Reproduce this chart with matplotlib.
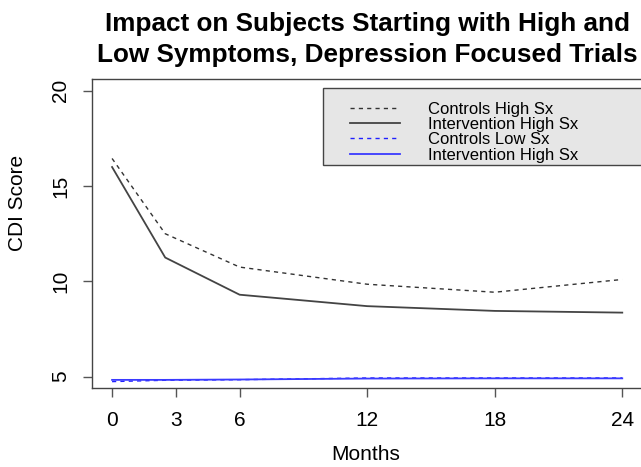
import matplotlib
matplotlib.use("Agg")
import matplotlib.pyplot as plt
from matplotlib.patches import Rectangle

plt.rcParams['font.family'] = ['Liberation Sans', 'DejaVu Sans']

# follow-up points (months) and mean CDI scores
months = [0, 2.5, 6, 12, 18, 24]
controls_high = [16.45, 12.5, 10.75, 9.85, 9.43, 10.1]
intervention_high = [16.0, 11.25, 9.3, 8.7, 8.45, 8.36]
controls_low = [4.74, 4.81, 4.84, 4.93, 4.93, 4.93]
intervention_low = [4.83, 4.83, 4.85, 4.9, 4.91, 4.91]

x_ticks = [0, 3, 6, 12, 18, 24]
y_ticks = [5, 10, 15, 20]
labels = ["Controls High Sx", "Intervention High Sx",
          "Controls Low Sx", "Intervention High Sx"]

fig = plt.figure(figsize=(6.41, 4.67), dpi=100)
ax = fig.add_axes([0.143, 0.169, 0.8596, 0.661])

ax.plot(months, controls_high, color="#333333", lw=1.0, dashes=(3, 3), label=labels[0])
ax.plot(months, intervention_high, color="#444444", lw=1.3, label=labels[1])
ax.plot(months, controls_low, color="#2020ff", lw=1.0, dashes=(3, 3), label=labels[2])
ax.plot(months, intervention_low, color="#3a3aff", lw=1.3, label=labels[3])

ax.set_xlim(-0.96, 24.96)
ax.set_ylim(4.4, 20.6)
ax.set_xticks(x_ticks)
ax.set_yticks(y_ticks)
ax.set_yticklabels([str(v) for v in y_ticks], rotation=90, va="center")

for s in ax.spines.values():
    s.set_color("#444444")
    s.set_linewidth(1.0)
ax.tick_params(axis="both", direction="out", length=6.5, width=1.0,
               color="#555555", labelsize=15)
ax.tick_params(axis="x", pad=10)
ax.tick_params(axis="y", pad=9)

ax.set_xlabel("Months", fontsize=15)
ax.xaxis.set_label_coords(0.497, -0.185)
ax.set_ylabel("CDI Score", fontsize=15)
ax.yaxis.set_label_coords(-0.117, 0.60)
ax.set_title("Impact on Subjects Starting with High and\nLow Symptoms, Depression Focused Trials",
             fontsize=18.8, fontweight="bold", linespacing=1.35, pad=12.5)

# grey legend box running off the right edge, like the original
ax.add_patch(Rectangle((0.42, 0.722), 0.6, 0.25, transform=ax.transAxes,
                       facecolor="#e6e6e6", edgecolor="#444444", lw=1.0,
                       clip_on=False, zorder=3))
leg = ax.legend(loc="upper left", bbox_to_anchor=(0.469, 0.928), fontsize=12,
                frameon=False, handlelength=3.0, handletextpad=1.65,
                labelspacing=0.02, borderpad=0, borderaxespad=0)
leg.set_zorder(4)

fig.savefig("out.png", dpi=100)
